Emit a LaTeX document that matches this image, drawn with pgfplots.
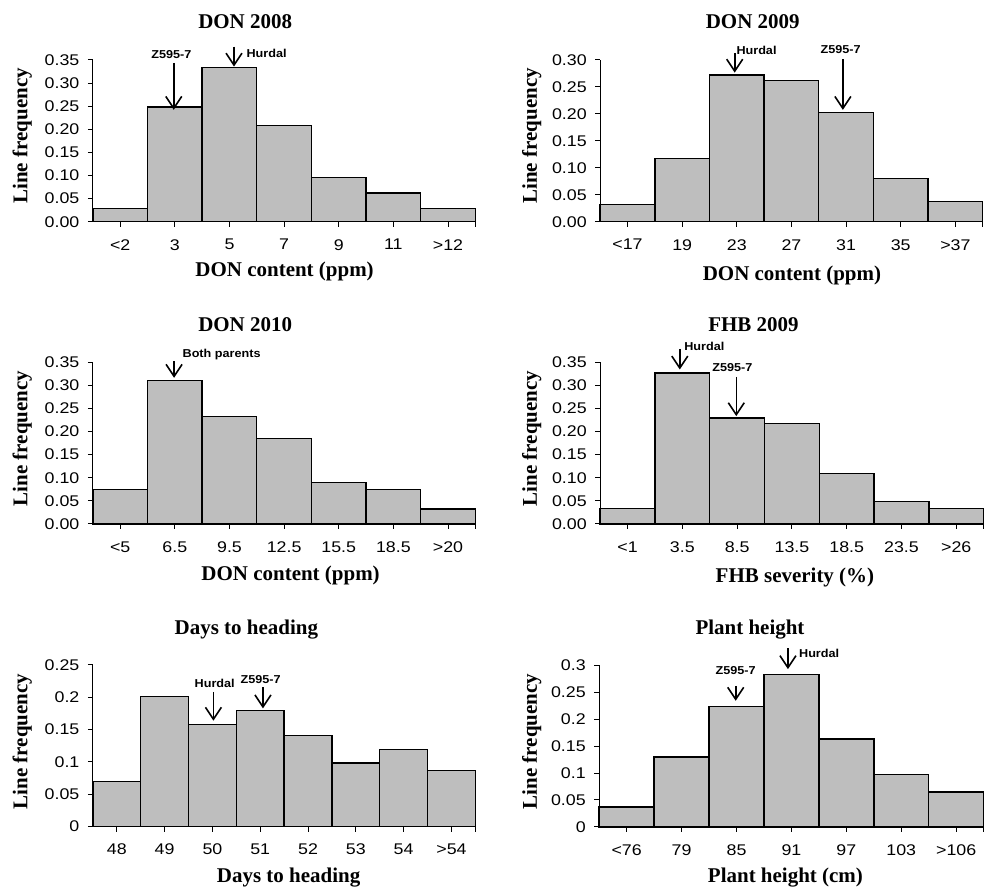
\documentclass[border=0pt]{standalone}
\usepackage{pgfplots}
\pgfplotsset{compat=1.18}
\usepackage{fontspec}
\setmainfont{Liberation Serif}
\newfontfamily\tickfont[FakeStretch=1.15]{Liberation Sans}
\newfontfamily\annfont[FakeStretch=1.1]{Liberation Sans}
\usetikzlibrary{arrows.meta}
\definecolor{barfill}{RGB}{190,190,190}
\pgfplotsset{hist/.style={
  scale only axis, width=383pt, height=162pt, anchor=south west,
  axis x line*=bottom, axis y line*=left,
  ymin=0, xmin=-0.5, xmax=6.5,
  scaled y ticks=false, scaled x ticks=false,
  tick align=outside, major tick length=5pt,
  xtick={0,1,2,3,4,5,6}, extra x ticks={6.5}, extra x tick labels={},
  ticklabel style={font=\fontsize{15.5}{15.5}\tickfont},
  yticklabel style={xshift=-5pt, /pgf/number format/fixed, /pgf/number format/assume math mode=true},
  xticklabel style={yshift=-9pt},
  /pgf/number format/assume math mode=true,
  axis line style={line width=1pt}, tick style={line width=1pt, black},
  clip=false,
},
fix2/.style={yticklabel style={/pgf/number format/fixed, /pgf/number format/fixed zerofill, /pgf/number format/precision=2}},
bars/.style={ybar, bar width=1, fill=barfill, draw=black, line width=1.4pt}
}
\tikzset{
  ann/.style={font=\fontsize{11.5}{11.5}\annfont\bfseries, inner sep=0pt},
  arr/.style={line width=1.6pt, -{Straight Barb[length=12pt,width=16pt,line width=1.6pt]}},
  ttl/.style={font=\fontsize{21}{21}\selectfont\bfseries, anchor=base, inner sep=0pt},
  ylab/.style={font=\fontsize{21}{21}\selectfont\bfseries, anchor=base, rotate=90, inner sep=0pt}
}
\begin{document}
\begin{tikzpicture}[x=1pt,y=1pt]
\path (0,0) rectangle (987,889);
% ---------- DON 2008
\begin{axis}[hist, fix2, at={(93pt,667pt)}, ymax=0.35,
  ytick={0,0.05,0.10,0.15,0.20,0.25,0.30,0.35},
  xticklabels={<2,3,5,7,9,11,>12}]
\addplot[bars] coordinates {(0,0.028) (1,0.248) (2,0.333) (3,0.208) (4,0.096) (5,0.062) (6,0.028)};
\end{axis}
% ---------- DON 2009
\begin{axis}[hist, fix2, at={(601pt,667pt)}, ymax=0.30,
  ytick={0,0.05,0.10,0.15,0.20,0.25,0.30},
  xticklabels={<17,19,23,27,31,35,>37}]
\addplot[bars] coordinates {(0,0.032) (1,0.117) (2,0.272) (3,0.262) (4,0.203) (5,0.080) (6,0.037)};
\end{axis}
% ---------- DON 2010
\begin{axis}[hist, fix2, at={(93pt,364.3pt)}, ymax=0.35,
  ytick={0,0.05,0.10,0.15,0.20,0.25,0.30,0.35},
  xticklabels={<5,6.5,9.5,12.5,15.5,18.5,>20}]
\addplot[bars] coordinates {(0,0.074) (1,0.311) (2,0.232) (3,0.185) (4,0.090) (5,0.074) (6,0.032)};
\end{axis}
% ---------- FHB 2009
\begin{axis}[hist, fix2, at={(601pt,364.3pt)}, width=384pt, ymax=0.35,
  ytick={0,0.05,0.10,0.15,0.20,0.25,0.30,0.35},
  xticklabels={<1,3.5,8.5,13.5,18.5,23.5,>26}]
\addplot[bars] coordinates {(0,0.033) (1,0.327) (2,0.229) (3,0.218) (4,0.109) (5,0.049) (6,0.033)};
\end{axis}
% ---------- Days to heading
\begin{axis}[hist, at={(93pt,61.3pt)}, ymax=0.25, xmax=7.5,
  xtick={0,1,2,3,4,5,6,7}, extra x ticks={7.5},
  ytick={0,0.05,0.1,0.15,0.2,0.25},
  xticklabels={48,49,50,51,52,53,54,>54}]
\addplot[bars] coordinates {(0,0.070) (1,0.201) (2,0.158) (3,0.179) (4,0.141) (5,0.098) (6,0.119) (7,0.087)};
\end{axis}
% ---------- Plant height
\begin{axis}[hist, at={(600pt,61pt)}, width=385pt, height=161.7pt, ymax=0.3,
  ytick={0,0.05,0.1,0.15,0.2,0.25,0.3},
  xticklabels={<76,79,85,91,97,103,>106}]
\addplot[bars] coordinates {(0,0.037) (1,0.130) (2,0.224) (3,0.283) (4,0.163) (5,0.097) (6,0.065)};
\end{axis}
% ---------- titles
\node[ttl] at (245.5,860.7) {DON 2008};
\node[ttl] at (753.7,860.7) {DON 2009};
\node[ttl] at (245.5,557.3) {DON 2010};
\node[ttl] at (754.5,557.3) {FHB 2009};
\node[ttl] at (246.7,254) {Days to heading};
\node[ttl] at (751,254) {Plant height};
% ---------- x labels
\node[ttl] at (285,612) {DON content (ppm)};
\node[ttl] at (793,608) {DON content (ppm)};
\node[ttl] at (291,307.3) {DON content (ppm)};
\node[ttl] at (796,305.7) {FHB severity (\%)};
\node[ttl] at (289,5) {Days to heading};
\node[ttl] at (786.5,5) {Plant height (cm)};
% ---------- y labels
\node[ylab] at (27.3,753) {Line frequency};
\node[ylab] at (537.5,753) {Line frequency};
\node[ylab] at (27.3,450) {Line frequency};
\node[ylab] at (537.5,450) {Line frequency};
\node[ylab] at (27.3,146.5) {Line frequency};
\node[ylab] at (537.5,146.5) {Line frequency};
% ---------- annotations (y = 889 - pixel row)
% DON 2008
\draw[arr] (174,826) -- (174,779);
\node[ann] at (171.7,834.7) {Z595-7};
\draw[arr] (234.3,842.3) -- (234.3,822.3);
\node[ann, anchor=west] at (246.7,835.7) {Hurdal};
% DON 2009
\draw[arr] (735.7,835.7) -- (735.7,816.3);
\node[ann, anchor=west] at (737.3,839) {Hurdal};
\draw[arr] (844,829.7) -- (844,779);
\node[ann] at (841.7,839) {Z595-7};
% DON 2010
\draw[arr] (174.3,527.3) -- (174.3,510.7);
\node[ann, anchor=west] at (182.7,534) {Both parents};
% FHB 2009
\draw[arr] (680.7,539.7) -- (680.7,519);
\node[ann, anchor=west] at (685,541.7) {Hurdal};
\draw[arr] (737.3,511.7) -- (737.3,472.3);
\node[ann] at (733.3,521.3) {Z595-7};
% Days to heading
\draw[arr] (213.7,196.3) -- (213.7,167.3);
\node[ann] at (215,204.7) {Hurdal};
\draw[arr] (263.3,200.7) -- (263.3,179.7);
\node[ann] at (261,208.3) {Z595-7};
% Plant height
\draw[arr] (736.7,202.3) -- (736.7,187.3);
\node[ann] at (736.7,217.3) {Z595-7};
\draw[arr] (789,239.7) -- (789,219);
\node[ann, anchor=west] at (800,234.7) {Hurdal};
\end{tikzpicture}
\end{document}
